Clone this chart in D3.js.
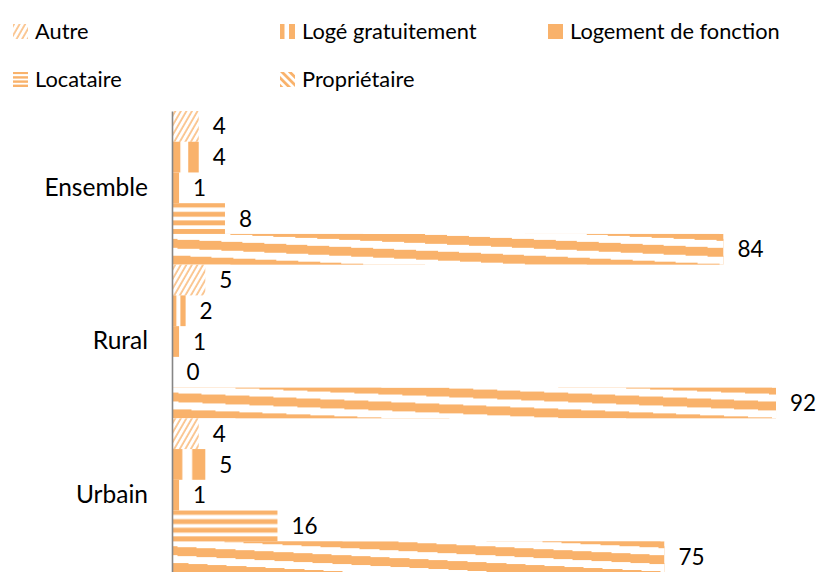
<!DOCTYPE html>
<html>
<head>
<meta charset="utf-8">
<script src="https://cdn.jsdelivr.net/npm/d3@7"></script>
<style>
  body { margin: 0; background: #fff; }
  text { font-family: Lato, "Open Sans", sans-serif; fill: #000; }
</style>
</head>
<body>
<svg id="chart" width="825" height="572"></svg>
<script>
// Répartition des ménages selon le statut d'occupation (%)
const groups = ["Ensemble", "Rural", "Urbain"];
const series = ["Autre", "Logé gratuitement", "Logement de fonction", "Locataire", "Propriétaire"];
const autre = [4, 5, 4];
const logeGratuitement = [4, 2, 5];
const logementFonction = [1, 1, 1];
const locataire = [8, 0, 16];
const proprietaire = [84, 92, 75];

const valuesBySeries = [autre, logeGratuitement, logementFonction, locataire, proprietaire];
const patternIds = ["pat-autre", "pat-loge", "pat-fonction", "pat-locataire", "pat-proprio"];
const ORANGE = "#F9B26B";

const rows = [];
groups.forEach((g, gi) => {
  series.forEach((s, si) => rows.push({ group: g, serie: s, si, value: valuesBySeries[si][gi] }));
});

const svg = d3.select("#chart");
const defs = svg.append("defs");

// Hachures fines obliques (Autre)
const pAutre = defs.append("pattern")
  .attr("id", "pat-autre").attr("patternUnits", "userSpaceOnUse")
  .attr("width", 4.8).attr("height", 10)
  .attr("patternTransform", "rotate(30)");
pAutre.append("line").attr("x1", 1).attr("x2", 1).attr("y1", 0).attr("y2", 10)
  .attr("stroke", ORANGE).attr("stroke-width", 1.4);

// Bandes verticales étirées (Logé gratuitement)
const pLoge = defs.append("pattern")
  .attr("id", "pat-loge").attr("patternUnits", "objectBoundingBox")
  .attr("patternContentUnits", "objectBoundingBox")
  .attr("width", 1).attr("height", 1);
[[0, 0.3], [0.6, 0.4]].forEach(([x, w]) =>
  pLoge.append("rect").attr("x", x).attr("y", 0).attr("width", w).attr("height", 1).attr("fill", ORANGE));

// Bandes horizontales (Locataire)
const pLoc = defs.append("pattern")
  .attr("id", "pat-locataire").attr("patternUnits", "objectBoundingBox")
  .attr("patternContentUnits", "objectBoundingBox")
  .attr("width", 1).attr("height", 1);
[[0, 0.14], [0.28, 0.16], [0.56, 0.16], [0.84, 0.16]].forEach(([y, h]) =>
  pLoc.append("rect").attr("x", 0).attr("y", y).attr("width", 1).attr("height", h).attr("fill", ORANGE));

// Larges bandes descendantes étirées sur la barre (Propriétaire)
const pPro = defs.append("pattern")
  .attr("id", "pat-proprio").attr("patternUnits", "objectBoundingBox")
  .attr("patternContentUnits", "objectBoundingBox")
  .attr("width", 1).attr("height", 1);
const slope = 0.82, thick = 0.29, period = 0.53, phase = 0.17;
d3.range(-3, 3).forEach(k => {
  const a = phase + k * period;
  pPro.append("polygon")
    .attr("points", `0,${a} 1,${a + slope} 1,${a + slope + thick} 0,${a + thick}`)
    .attr("fill", ORANGE).attr("shape-rendering", "crispEdges");
});

// Motif de légende pour Propriétaire
const pProLeg = defs.append("pattern")
  .attr("id", "pat-proprio-leg").attr("patternUnits", "userSpaceOnUse")
  .attr("width", 5.5).attr("height", 10)
  .attr("patternTransform", "rotate(-45)");
pProLeg.append("rect").attr("x", 0).attr("y", 0).attr("width", 2.8).attr("height", 10).attr("fill", ORANGE);

const fillFor = si => si === 2 ? ORANGE : `url(#${patternIds[si]})`;

// Échelles
const x = d3.scaleLinear().domain([0, 100]).range([172.5, 828.5]);
const yGroup = d3.scaleBand().domain(groups).range([111, 572]).padding(0);
const ySerie = d3.scaleBand().domain(series).range([0, yGroup.bandwidth()]).padding(0);

// Barres
const bars = svg.append("g");
bars.selectAll("rect").data(rows).join("rect")
  .attr("x", x(0))
  .attr("y", d => yGroup(d.group) + ySerie(d.serie))
  .attr("width", d => x(d.value) - x(0))
  .attr("height", ySerie.bandwidth())
  .attr("fill", d => fillFor(d.si));

// Étiquettes de valeur
svg.append("g").selectAll("text").data(rows).join("text")
  .attr("x", d => x(d.value) + 14)
  .attr("y", d => yGroup(d.group) + ySerie(d.serie) + ySerie.bandwidth() / 2)
  .attr("dy", "0.36em")
  .attr("font-size", 22.5)
  .text(d => d.value);

// Axe des catégories
const axis = svg.append("g")
  .attr("transform", `translate(${x(0) - 0.5},0)`)
  .call(d3.axisLeft(yGroup).tickSize(0).tickSizeOuter(0).tickPadding(24));
axis.select(".domain").attr("stroke", "#868686").attr("stroke-width", 1.6);
axis.selectAll("text").attr("font-size", 24.5).attr("font-family", "Lato, sans-serif").attr("fill", "#000");

// Légende
const legendItems = [
  { si: 0, x: 13, y: 24 }, { si: 1, x: 280, y: 24 }, { si: 2, x: 548, y: 24 },
  { si: 3, x: 13, y: 72 }, { si: 4, x: 280, y: 72 }
];
const legend = svg.append("g").selectAll("g").data(legendItems).join("g")
  .attr("transform", d => `translate(${d.x},${d.y})`);
legend.append("rect")
  .attr("width", 15).attr("height", 15)
  .attr("fill", d => d.si === 4 ? "url(#pat-proprio-leg)" : fillFor(d.si));
legend.append("text")
  .attr("x", 22).attr("y", 7.5).attr("dy", "0.36em")
  .attr("font-size", 21.8)
  .text(d => series[d.si]);
</script>
</body>
</html>
